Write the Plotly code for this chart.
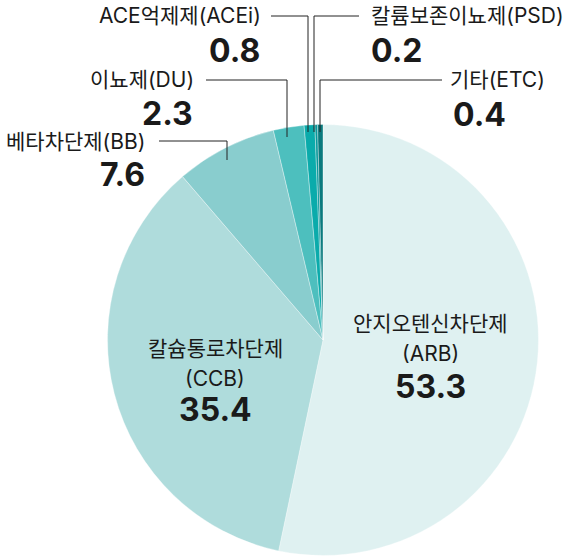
import plotly.graph_objects as go

# ---- data ----
names = ["안지오텐신차단제", "칼슘통로차단제", "베타차단제", "이뇨제", "ACE억제제", "칼륨보존이뇨제", "기타"]
codes = ["ARB", "CCB", "BB", "DU", "ACEi", "PSD", "ETC"]
values = [53.3, 35.4, 7.6, 2.3, 0.8, 0.2, 0.4]
colors = ["#dff1f1", "#afdcdc", "#89cdce", "#4dbfbe", "#0aabab", "#08979a", "#0a7a7e"]

W, H = 564, 557
CX, CY, R = 323, 340, 215.5

def px(x):
    return x / W

def py(y):
    return 1 - y / H

FONT = "Inter, 'Noto Sans CJK KR', sans-serif"
LABEL_SIZE = 21
VALUE_SIZE = 32
TEXT_COLOR = "#1a1a1a"

# ---- label layout (pixel positions) ----
inner_layout = {
    "ARB": dict(x=430, y=(323, 353, 386)),
    "CCB": dict(x=215, y=(348, 378, 409)),
}
outer_layout = {
    "BB":   dict(side="right", lx=147, ly=141, vx=147, vy=175, line=[(159, 141), (227, 141), (227, 160)]),
    "DU":   dict(side="right", lx=196, ly=80,  vx=195, vy=113, line=[(206, 80), (287, 80), (287, 137)]),
    "ACEi": dict(side="right", lx=263, ly=16,  vx=262, vy=50,  line=[(271, 16), (308, 16), (308, 132)]),
    "PSD":  dict(side="left",  lx=369, ly=16,  vx=369, vy=50,  line=[(359, 16), (314, 16), (314, 132)]),
    "ETC":  dict(side="left",  lx=448, ly=80,  vx=451, vy=114, line=[(442, 80), (320, 80), (320, 132)]),
}

fig = go.Figure(go.Pie(
    labels=[f"{n}({c})" for n, c in zip(names, codes)],
    values=values,
    sort=False,
    direction="clockwise",
    rotation=0,
    marker=dict(colors=colors, line=dict(color="rgba(255,255,255,0.6)", width=0.6)),
    textinfo="none",
    hoverinfo="label+value",
    domain=dict(x=[px(CX - R), px(CX + R)], y=[py(CY + R), py(CY - R)]),
    showlegend=False,
))

annotations = []
shapes = []
for n, c, v in zip(names, codes, values):
    if c in inner_layout:
        L = inner_layout[c]
        for txt, yy, size, bold in [(n, L["y"][0], LABEL_SIZE, False),
                                    (f"({c})", L["y"][1], LABEL_SIZE, False),
                                    (f"{v:.1f}", L["y"][2], VALUE_SIZE, True)]:
            annotations.append(dict(
                x=px(L["x"]), y=py(yy), xref="paper", yref="paper",
                text=f"<b>{txt}</b>" if bold else txt, showarrow=False,
                xanchor="center", yanchor="middle",
                font=dict(family=FONT, size=size, color=TEXT_COLOR)))
    else:
        L = outer_layout[c]
        anchor = "right" if L["side"] == "right" else "left"
        annotations.append(dict(
            x=px(L["lx"]), y=py(L["ly"]), xref="paper", yref="paper",
            text=f"{n}({c})", showarrow=False, xanchor=anchor, yanchor="middle",
            font=dict(family=FONT, size=LABEL_SIZE, color=TEXT_COLOR)))
        annotations.append(dict(
            x=px(L["vx"]), y=py(L["vy"]), xref="paper", yref="paper",
            text=f"<b>{v:.1f}</b>", showarrow=False, xanchor=anchor, yanchor="middle",
            font=dict(family=FONT, size=VALUE_SIZE, color=TEXT_COLOR)))
        pts = L["line"]
        path = "M " + " L ".join(f"{px(a)},{py(b)}" for a, b in pts)
        shapes.append(dict(type="path", xref="paper", yref="paper", path=path,
                           line=dict(color="#222222", width=1)))

fig.update_layout(
    width=W, height=H,
    margin=dict(l=0, r=0, t=0, b=0),
    paper_bgcolor="white", plot_bgcolor="white",
    annotations=annotations, shapes=shapes,
)

fig.write_html(
    "out.html",
    config={"displayModeBar": False},
    post_script="document.body.style.margin='0';document.body.style.overflow='hidden';",
)
